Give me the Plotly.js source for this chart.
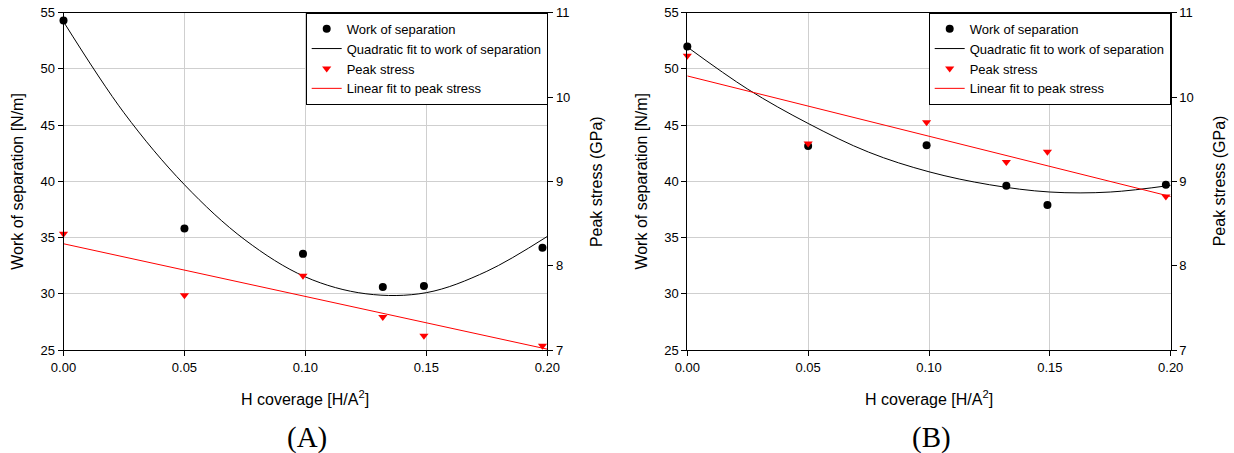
<!DOCTYPE html>
<html>
<head>
<meta charset="utf-8">
<script src="https://cdn.plot.ly/plotly-3.0.1.min.js"></script>
<style>html,body{margin:0;padding:0;background:#fff}#chart{width:1234px;height:453px}</style>
</head>
<body>
<div id="chart"></div>
<script>
// H coverage of the data points [H/A^2]
const xCov = [0, 0.05, 0.099, 0.132, 0.149, 0.198];
// Panel A
const workA = [54.3, 35.8, 33.55, 30.6, 30.7, 34.1];
const peakA = [8.38, 7.65, 7.88, 7.39, 7.17, 7.05];
// Panel B
const workB = [52.0, 43.15, 43.2, 39.6, 37.9, 39.7];
const peakB = [10.49, 9.45, 9.70, 9.23, 9.35, 8.82];
// Fitted curves
const fitX = [0, 0.025, 0.05, 0.075, 0.1, 0.125, 0.15, 0.175, 0.2];
const quadFitA = [54.2, 46.1, 39.7, 34.8, 31.5, 30.0, 30.1, 32.0, 35.1];
const quadFitB = [51.95, 48.2, 45.15, 42.6, 40.85, 39.7, 39.05, 39.05, 39.65];
const linX = [0, 0.2];
const linFitA = [8.26, 7.01];
const linFitB = [10.25, 8.82];
// Labels
const xTicks = [0, 0.05, 0.10, 0.15, 0.20];
const names = ['Work of separation', 'Quadratic fit to work of separation', 'Peak stress', 'Linear fit to peak stress'];
const xTitle = 'H coverage [H/A<sup>2</sup>]';
const yTitleL = 'Work of separation [N/m]';
const yTitleR = 'Peak stress (GPa)';
const panelLabels = ['(A)', '(B)'];

const W = 1234, H = 453;
const FONT = 'Liberation Sans, Arial, sans-serif';
const px = v => v / W, py = v => 1 - v / H;

function panelTraces(xa, yl, yr, legend, work, quad, peak, lin) {
  return [
    {x: xCov, y: work, xaxis: xa, yaxis: yl, legend: legend, name: names[0], type: 'scatter', mode: 'markers',
     marker: {symbol: 'circle', size: 8, color: '#000'}, cliponaxis: false},
    {x: fitX, y: quad, xaxis: xa, yaxis: yl, legend: legend, name: names[1], type: 'scatter', mode: 'lines',
     line: {color: '#000', width: 1, shape: 'spline'}},
    {x: xCov, y: peak, xaxis: xa, yaxis: yr, legend: legend, name: names[2], type: 'scatter', mode: 'markers',
     marker: {symbol: 'triangle-down', size: 8, color: '#ff0000'}, cliponaxis: false},
    {x: linX, y: lin, xaxis: xa, yaxis: yr, legend: legend, name: names[3], type: 'scatter', mode: 'lines',
     line: {color: '#ff0000', width: 1}}
  ];
}

const data = [].concat(
  panelTraces('x', 'y', 'y2', 'legend', workA, quadFitA, peakA, linFitA),
  panelTraces('x2', 'y3', 'y4', 'legend2', workB, quadFitB, peakB, linFitB)
);

const yDom = [py(350), py(12.7)];
const domA = [px(63.5), px(547.3)];
const domB = [px(687.3), px(1170.7)];

const tickFont = {family: FONT, size: 13, color: '#000'};
function xAxis(dom, anchor) {
  return {domain: dom, anchor: anchor, range: [0, 0.2], tickvals: xTicks, tickformat: '.2f',
    ticks: 'outside', ticklen: 5, tickcolor: '#000', showline: true, linecolor: '#000', linewidth: 1,
    mirror: true, showgrid: true, gridcolor: '#cfcfcf', gridwidth: 1, zeroline: false, tickfont: tickFont};
}
function yLeft(anchor) {
  return {domain: yDom, anchor: anchor, range: [25, 55], dtick: 5, tick0: 25,
    ticks: 'outside', ticklen: 5, tickcolor: '#000', showline: true, linecolor: '#000', linewidth: 1,
    showgrid: true, gridcolor: '#cfcfcf', gridwidth: 1, zeroline: false, tickfont: tickFont};
}
function yRight(anchor, over) {
  return {overlaying: over, side: 'right', anchor: anchor, range: [7, 11], dtick: 1, tick0: 7,
    ticks: 'outside', ticklen: 5, tickcolor: '#000', showline: true, linecolor: '#000', linewidth: 1,
    showgrid: false, zeroline: false, tickfont: tickFont};
}
function legendCfg(xRight) {
  return {x: xRight, xanchor: 'right', y: py(12.7), yanchor: 'top', bgcolor: '#fff',
    bordercolor: '#000', borderwidth: 1, font: {family: FONT, size: 13, color: '#000'},
    tracegroupgap: 0, itemwidth: 30};
}

const ann = [];
function addTitles(cx, lx, rx, label) {
  const cy = py(181.3);
  ann.push({text: yTitleL, x: px(lx), y: cy, xref: 'paper', yref: 'paper', textangle: -90,
    showarrow: false, xanchor: 'center', yanchor: 'middle', font: {family: FONT, size: 16, color: '#000'}});
  ann.push({text: yTitleR, x: px(rx), y: cy, xref: 'paper', yref: 'paper', textangle: -90,
    showarrow: false, xanchor: 'center', yanchor: 'middle', font: {family: FONT, size: 16, color: '#000'}});
  ann.push({text: xTitle, x: px(cx), y: py(398), xref: 'paper', yref: 'paper',
    showarrow: false, xanchor: 'center', yanchor: 'middle', font: {family: FONT, size: 16, color: '#000'}});
  ann.push({text: label, x: px(cx + 2), y: py(437), xref: 'paper', yref: 'paper',
    showarrow: false, xanchor: 'center', yanchor: 'middle', font: {family: 'Liberation Serif, Times New Roman, serif', size: 29, color: '#000'}});
}
addTitles((63.5 + 547.3) / 2, 17.5, 595.8, panelLabels[0]);
addTitles((687.3 + 1170.7) / 2, 641.3, 1219, panelLabels[1]);

const layout = {
  width: W, height: H, margin: {l: 0, r: 0, t: 0, b: 0},
  paper_bgcolor: '#fff', plot_bgcolor: '#fff',
  font: {family: FONT, color: '#000'},
  showlegend: true,
  xaxis: xAxis(domA, 'y'),
  yaxis: yLeft('x'),
  yaxis2: yRight('x', 'y'),
  xaxis2: xAxis(domB, 'y3'),
  yaxis3: yLeft('x2'),
  yaxis4: yRight('x2', 'y3'),
  legend: legendCfg(px(547.7)),
  legend2: legendCfg(px(1170.7)),
  annotations: ann
};

Plotly.newPlot('chart', data, layout, {staticPlot: true, displayModeBar: false});
</script>
</body>
</html>
